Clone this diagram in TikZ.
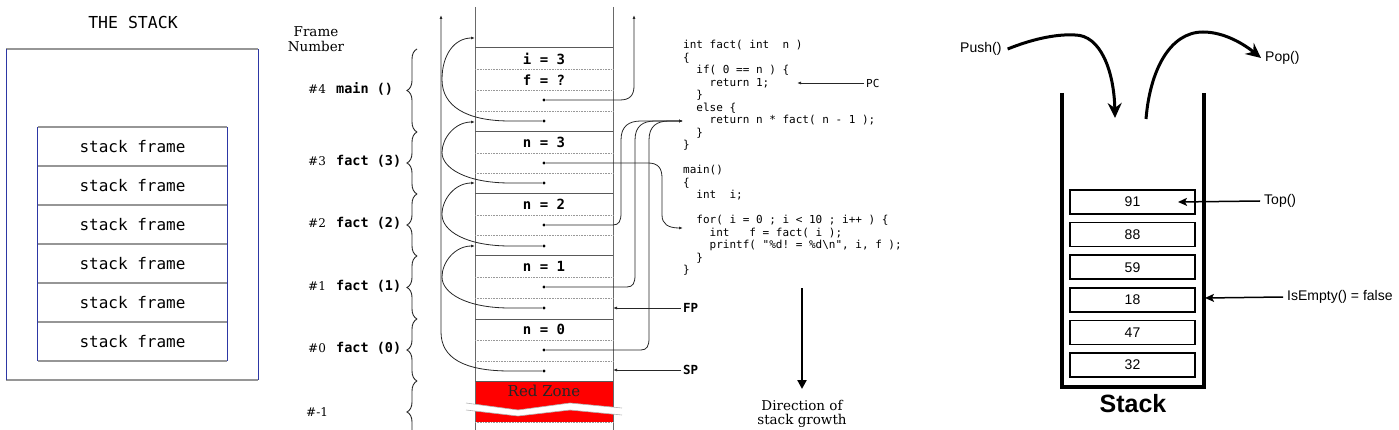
\documentclass[tikz,border=0pt]{standalone}
\usepackage{fontspec}
\usepackage{tikz}
\usetikzlibrary{arrows.meta,decorations.pathreplacing,positioning}
\setmonofont{DejaVu Sans Mono}
\newfontfamily\stackserif{DejaVu Serif}
\newfontfamily\stacksans{Liberation Sans}
\definecolor{sideblue}{RGB}{45,55,165}
\definecolor{sepgray}{RGB}{150,150,150}
\definecolor{colgray}{RGB}{105,105,105}

\begin{document}
\begin{tikzpicture}[x=1pt,y=-1pt,>={Latex[length=4pt,width=3pt]}]
    \tikzstyle{every node}=[inner sep=0pt]
    \tikzstyle{frame box}=[minimum width=189pt,minimum height=39pt,font=\ttfamily\fontsize{16}{18}\selectfont]
    \tikzstyle{sep line}=[sepgray,line width=1.6pt]
    \tikzstyle{side line}=[sideblue,line width=1pt]
    \tikzstyle{col line}=[colgray,line width=1pt]
    \tikzstyle{frame line}=[black!65,line width=1pt]
    \tikzstyle{slot line}=[black!40,densely dotted,line width=0.6pt]
    \tikzstyle{slot text}=[font=\ttfamily\bfseries\fontsize{14}{16}\selectfont]
    \tikzstyle{slot dot}=[circle,fill=black,minimum size=3.2pt]
    \tikzstyle{link}=[black!85,line width=0.8pt]
    \tikzstyle{frame brace}=[black!85,line width=0.9pt,decorate,decoration={brace,amplitude=10pt}]
    \tikzstyle{num label}=[font=\stackserif\fontsize{12}{14}\selectfont]
    \tikzstyle{fun label}=[font=\ttfamily\bfseries\fontsize{13.5}{16}\selectfont]
    \tikzstyle{serif label}=[font=\stackserif\fontsize{13.5}{14.5}\selectfont,align=center]
    \tikzstyle{ptr label}=[font=\ttfamily\bfseries\fontsize{12.5}{14}\selectfont,inner xsep=2pt]
    \tikzstyle{pc label}=[font=\ttfamily\fontsize{11}{13}\selectfont,inner xsep=2pt]
    \tikzstyle{code}=[font=\ttfamily\fontsize{11}{12.5}\selectfont,align=left]
    \tikzstyle{item box}=[draw,line width=1.8pt,minimum width=125pt,minimum height=24pt,font=\stacksans\fontsize{14}{16}\selectfont]
    \tikzstyle{op label}=[font=\stacksans\fontsize{14}{16}\selectfont]
    \tikzstyle{op arrow}=[line width=3pt,-{Stealth[length=15pt,width=14pt,inset=5pt]}]
    \tikzstyle{tag arrow}=[line width=1.5pt,-{Stealth[length=9pt,width=8pt,inset=2pt]}]

    \useasboundingbox (0,0) rectangle (1399,430);

    % Draw the stack of frames on the left
    \node[font=\ttfamily\fontsize{16.5}{18}\selectfont] (title) at (133,22) {THE STACK};
    \draw[sep line] (6,49) -- (258,49) (6,380) -- (258,380);
    \draw[side line] (6,49) -- (6,380) (258,49) -- (258,380);
    \foreach \i in {1,...,6}
        \node[frame box] (F-\i) at (132.5,{107.5+39*\i}) {stack frame};
    \foreach \i in {1,...,6}
        \draw[sep line] (F-\i.north west) -- (F-\i.north east);
    \draw[sep line] (F-6.south west) -- (F-6.south east);
    \draw[side line] (F-1.north west) -- (F-6.south west) (F-1.north east) -- (F-6.south east);

    % Frame numbers and braces
    \node[serif label] (fnum) at (316,39) {Frame\\Number};
    \foreach \k/\fname/\ytop/\ybot in {4/main ()/49/132, 3/fact (3)/132/194, 2/fact (2)/194/256, 1/fact (1)/256/319, 0/fact (0)/319/381}
    {
        \node[num label,anchor=west] (N-\k) at (308,{(\ytop+\ybot)/2-1.5}) {\#\k};
        \node[fun label,anchor=west] (L-\k) at (336,{(\ytop+\ybot)/2-1.5}) {\fname};
        \draw[frame brace] (417,\ybot) -- (417,\ytop);
    }
    \node[num label,anchor=west] (N-5) at (306,412) {\#-1};
    \draw[frame brace] (417,443) -- (417,381);

    % Draw the stack column with its slots
    \fill[red] (475,381) rectangle (613,422);
    \draw[col line] (475,7) -- (475,430) (613,7) -- (613,430);
    \foreach \y in {48,132,194,256,319,381}
        \draw[frame line] (475,\y) -- (613,\y);
    \foreach \y in {69,90,111,153,173,215,235,277,298,340,361,422}
        \draw[slot line] (475,\y) -- (613,\y);
    \fill[white] (466,403) -- (518,410) -- (570,403) -- (622,408) -- (622,415) -- (570,410) -- (518,416) -- (466,410) -- cycle;
    \draw[black!30,line width=0.6pt] (466,403) -- (518,410) -- (570,403) -- (622,408) (622,415) -- (570,410) -- (518,416) -- (466,410);
    \node[serif label,text=black!85,font=\stackserif\fontsize{15}{16}\selectfont] (redzone) at (544,391) {Red Zone};

    \foreach \txt/\y in {i = 3/59, f = ?/80, n = 3/142, n = 2/204, n = 1/266, n = 0/329}
        \node[slot text] (V-\y) at (544,\y) {\txt};

    % Return address and saved frame pointer slots
    \foreach \k/\yr/\ys in {4/100/121, 3/163/183, 2/225/246, 1/287/308, 0/350/371}
    {
        \node[slot dot] (R-\k) at (544,\yr) {};
        \node[slot dot] (S-\k) at (544,\ys) {};
    }

    % Saved frame pointers point at the frame above
    \foreach \k/\ys/\yt in {4/121/38, 3/183/122, 2/246/183, 1/308/246}
    {
        \coordinate (T-\k) at (475,\yt);
        \draw[link,->] (S-\k) -- (510,\ys) .. controls (466,\ys) and (442,{\ys-15}) .. (442,{(\ys+\yt)/2}) .. controls (442,{\yt+16}) and (455,\yt) .. (T-\k);
    }
    \coordinate (T-top) at (441,15);
    \draw[link,->] (S-0) -- (510,371) .. controls (464,371) and (441,358) .. (441,332) -- (T-top);

    % Return addresses point into the code
    \coordinate (RA-4) at (634,15);
    \draw[link,->] (R-4) -- (620,100) .. controls (630,100) and (634,95) .. (634,86) -- (RA-4);
    \coordinate (RA-main) at (683,228);
    \draw[link,->] (R-3) -- (648,163) .. controls (658,163) and (662,168) .. (662,178) -- (662,215) .. controls (662,224) and (668,228) .. (RA-main);
    \coordinate (RA-fact) at (683,121);
    \foreach \k/\yr/\xv in {2/225/621, 1/287/635, 0/350/649}
        \draw[link,->] (R-\k) -- ({\xv-8},\yr) .. controls ({\xv-2},\yr) and (\xv,{\yr-4}) .. (\xv,{\yr-12}) -- (\xv,140) .. controls (\xv,126) and ({\xv+8},121) .. ({\xv+20},121) -- (RA-fact);

    % Frame and stack pointers
    \node[ptr label,anchor=west] (FP) at (681,308) {FP};
    \coordinate (FP-at) at (613,308);
    \draw[link,->] (FP) -- (FP-at);
    \node[ptr label,anchor=west] (SP) at (681,370) {SP};
    \coordinate (SP-at) at (613,370);
    \draw[link,->] (SP) -- (SP-at);

    % Code listing
    \node[code,anchor=north west] (code) at (683,40) {int fact( int~~n )\\
\{\\
\phantom{xx}if( 0 == n ) \{\\
\phantom{xxxx}return 1;\\
\phantom{xx}\}\\
\phantom{xx}else \{\\
\phantom{xxxx}return n * fact( n - 1 );\\
\phantom{xx}\}\\
\}\\
\mbox{}\\
main()\\
\{\\
\phantom{xx}int~~i;\\
\mbox{}\\
\phantom{xx}for( i = 0 ; i < 10 ; i++ ) \{\\
\phantom{xxxx}int~~~f = fact( i );\\
\phantom{xxxx}printf( "\%d! = \%d\textbackslash n", i, f );\\
\phantom{xx}\}\\
\}};
    \node[pc label,anchor=west] (PC) at (864,83) {PC};
    \coordinate (PC-at) at (797,83);
    \draw[link,->] (PC) -- (PC-at);

    % Direction of growth
    \node[serif label] (grow) at (802,414) {Direction of\\stack growth};
    \coordinate (grow-top) at (802,288);
    \coordinate (grow-tip) at (802,389);
    \draw[line width=2.4pt,-{Triangle[length=9pt,width=9pt]}] (grow-top) -- (grow-tip);

    % Draw the stack container on the right
    \draw[line width=3.5pt] (1062,93) -- (1062,387) -- (1204,387) -- (1204,93);
    \foreach \v [count=\i] in {91,88,59,18,47,32}
        \node[item box] (B-\i) at (1132.5,{202+32.6*(\i-1)}) {\v};
    \node[font=\stacksans\bfseries\fontsize{25}{28}\selectfont] (stackcap) at (1133,404) {Stack};

    % Operations
    \node[op label,anchor=west] (pushop) at (960,49) {Push()};
    \coordinate (push-in) at (1115,118);
    \draw[op arrow] ([xshift=6pt]pushop.east) .. controls (1035,38) and (1058,34) .. (1075,35) .. controls (1100,35) and (1114,70) .. (push-in);
    \node[op label,anchor=west] (popop) at (1265,58) {Pop()};
    \coordinate (pop-out) at (1146,119);
    \draw[op arrow] (pop-out) .. controls (1150,70) and (1170,32) .. (1203,32) .. controls (1225,32) and (1245,45) .. ([xshift=-4pt]popop.west);
    \node[op label,anchor=west] (topop) at (1264,201) {Top()};
    \coordinate (top-at) at (1178,202);
    \draw[tag arrow] ([xshift=-4pt]topop.west) -- (top-at);
    \node[op label,anchor=west] (emptyop) at (1287,297) {IsEmpty() = false};
    \coordinate (empty-at) at (1205,298);
    \draw[tag arrow] ([xshift=-4pt]emptyop.west) -- (empty-at);
\end{tikzpicture}
\end{document}
